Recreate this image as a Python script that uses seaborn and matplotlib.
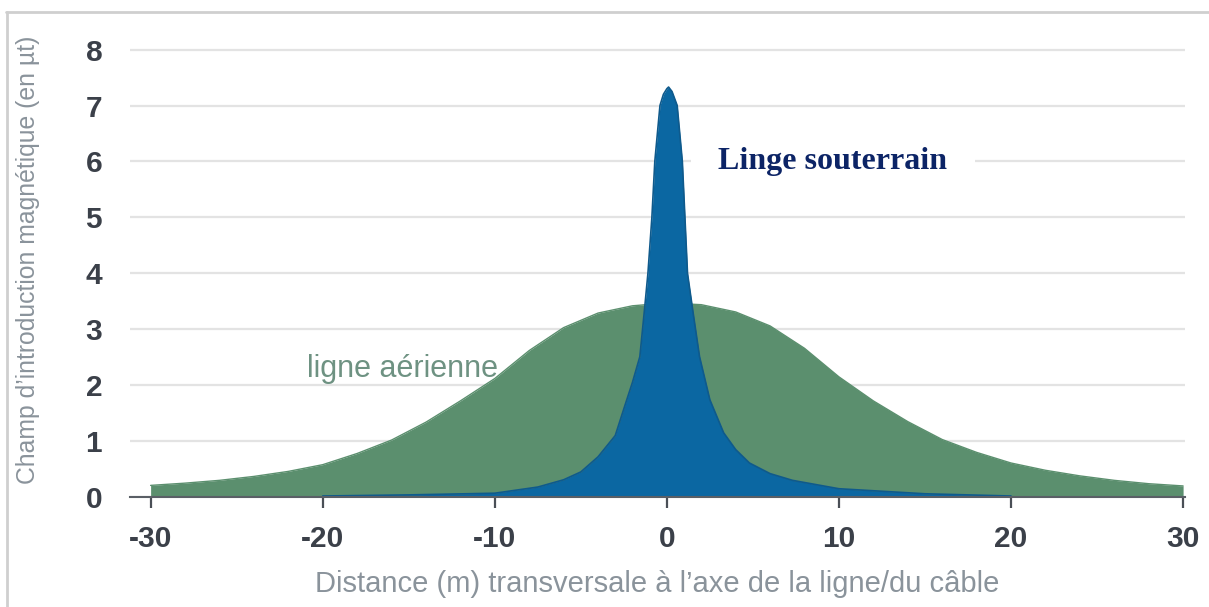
import matplotlib
matplotlib.use("Agg")
import matplotlib.pyplot as plt
from matplotlib.lines import Line2D
import seaborn as sns
import pandas as pd

# ---- data ----
x_air = [-30, -28, -26, -24, -22, -20, -18, -16, -14, -12, -10, -8, -6, -4, -2, 0,
         2, 4, 6, 8, 10, 12, 14, 16, 18, 20, 22, 24, 26, 28, 30]
b_air = [0.21, 0.25, 0.30, 0.37, 0.46, 0.58, 0.78, 1.02, 1.34, 1.72, 2.12, 2.62, 3.03,
         3.29, 3.42, 3.47, 3.44, 3.31, 3.06, 2.66, 2.15, 1.72, 1.35, 1.03, 0.80, 0.61,
         0.48, 0.38, 0.30, 0.24, 0.20]

x_ug = [-20, -15, -10, -7.5, -6, -5, -4, -3, -2.33, -2, -1.57, -1.3, -1.1, -0.87, -0.7,
        -0.4, -0.2, 0, 0.1, 0.3, 0.6, 0.9, 1.05, 1.2, 1.5, 1.9, 2.5, 3.3, 4, 4.8, 6,
        7.3, 10, 15, 20]
b_ug = [0.02, 0.04, 0.07, 0.18, 0.31, 0.45, 0.72, 1.1, 1.74, 2.05, 2.51, 3.35, 4.0, 5.0,
        6.0, 7.0, 7.2, 7.3, 7.33, 7.25, 7.0, 6.0, 5.0, 4.0, 3.35, 2.51, 1.74, 1.15, 0.85,
        0.61, 0.42, 0.30, 0.15, 0.06, 0.02]

x_ticks = [-30, -20, -10, 0, 10, 20, 30]
y_ticks = [0, 1, 2, 3, 4, 5, 6, 7, 8]

label_air = "ligne aérienne"
label_ug = "Linge souterrain"
x_title = "Distance (m) transversale à l’axe de la ligne/du câble"
y_title = "Champ d’introduction magnétique (en µt)"

# ---- style ----
sns.set_theme(style="white")
plt.rcParams["font.family"] = ["Liberation Sans", "DejaVu Sans"]
sans = ["Liberation Sans", "DejaVu Sans"]

GREEN = "#5b8f6e"
BLUE = "#0b67a2"
BLUE_EDGE = "#0f5a8c"
TICK_COL = "#3b4049"
LABEL_COL = "#8a939b"

fig = plt.figure(figsize=(12.09, 6.07), dpi=100)
ax = fig.add_axes([0.1075, 0.181, 0.8725, 0.765])

df_air = pd.DataFrame({"x": x_air, "b": b_air})
df_ug = pd.DataFrame({"x": x_ug, "b": b_ug})

ax.fill_between(df_air["x"], 0, df_air["b"], color=GREEN, lw=0, zorder=2)
sns.lineplot(data=df_air, x="x", y="b", ax=ax, color=GREEN, lw=1, zorder=2,
             sort=False, estimator=None)
ax.fill_between(df_ug["x"], 0, df_ug["b"], color=BLUE, lw=0, zorder=3)
sns.lineplot(data=df_ug, x="x", y="b", ax=ax, color=BLUE_EDGE, lw=1.2, zorder=3,
             sort=False, estimator=None)

ax.set_xlim(-31.2, 30.1)
ax.set_ylim(0, 8.3)
ax.set_xticks(x_ticks)
ax.set_yticks(y_ticks)
ax.set_xticklabels([str(v) for v in x_ticks])
ax.set_yticklabels([str(v) for v in y_ticks])

ax.grid(axis="y", color="#e3e3e3", lw=1.6, zorder=0)
ax.grid(axis="x", visible=False)
for s in ["top", "right", "left"]:
    ax.spines[s].set_visible(False)
ax.spines["bottom"].set_color("#5a5f66")
ax.spines["bottom"].set_linewidth(1.5)
ax.spines["bottom"].set_zorder(4)

ax.tick_params(axis="x", direction="out", length=8, width=1.6, color="#4a4f56",
               labelsize=21.5, labelcolor=TICK_COL, pad=12, bottom=True)
ax.tick_params(axis="y", length=0, labelsize=21.5, labelcolor=TICK_COL, pad=20, left=False)
for lab in ax.get_xticklabels() + ax.get_yticklabels():
    lab.set_fontweight("bold")

ax.set_xlabel(x_title, family=sans, fontsize=21, color=LABEL_COL, labelpad=12)
ax.set_ylabel(y_title, family=sans, fontsize=17.8, color=LABEL_COL)
ax.yaxis.set_label_coords(-0.085, 0.51)

ax.text(-20.9, 2.15, label_air, family=sans, fontsize=22, color="#6e9282",
        ha="left", va="baseline", zorder=5)
ax.text(3.0, 6.0, label_ug, family=["Liberation Serif", "DejaVu Serif"], fontsize=23,
        fontweight="bold", color="#0c2466", ha="left", va="center", zorder=5,
        bbox=dict(boxstyle="square,pad=0.85", fc="white", ec="none"))

# light frame at top and left of the picture
fig.add_artist(Line2D([0.005, 1.0], [0.981, 0.981], transform=fig.transFigure,
                      color="#cfcfcf", lw=2))
fig.add_artist(Line2D([0.006, 0.006], [0.0, 0.981], transform=fig.transFigure,
                      color="#cfcfcf", lw=2))

fig.savefig("out.png", dpi=100, facecolor="white")
